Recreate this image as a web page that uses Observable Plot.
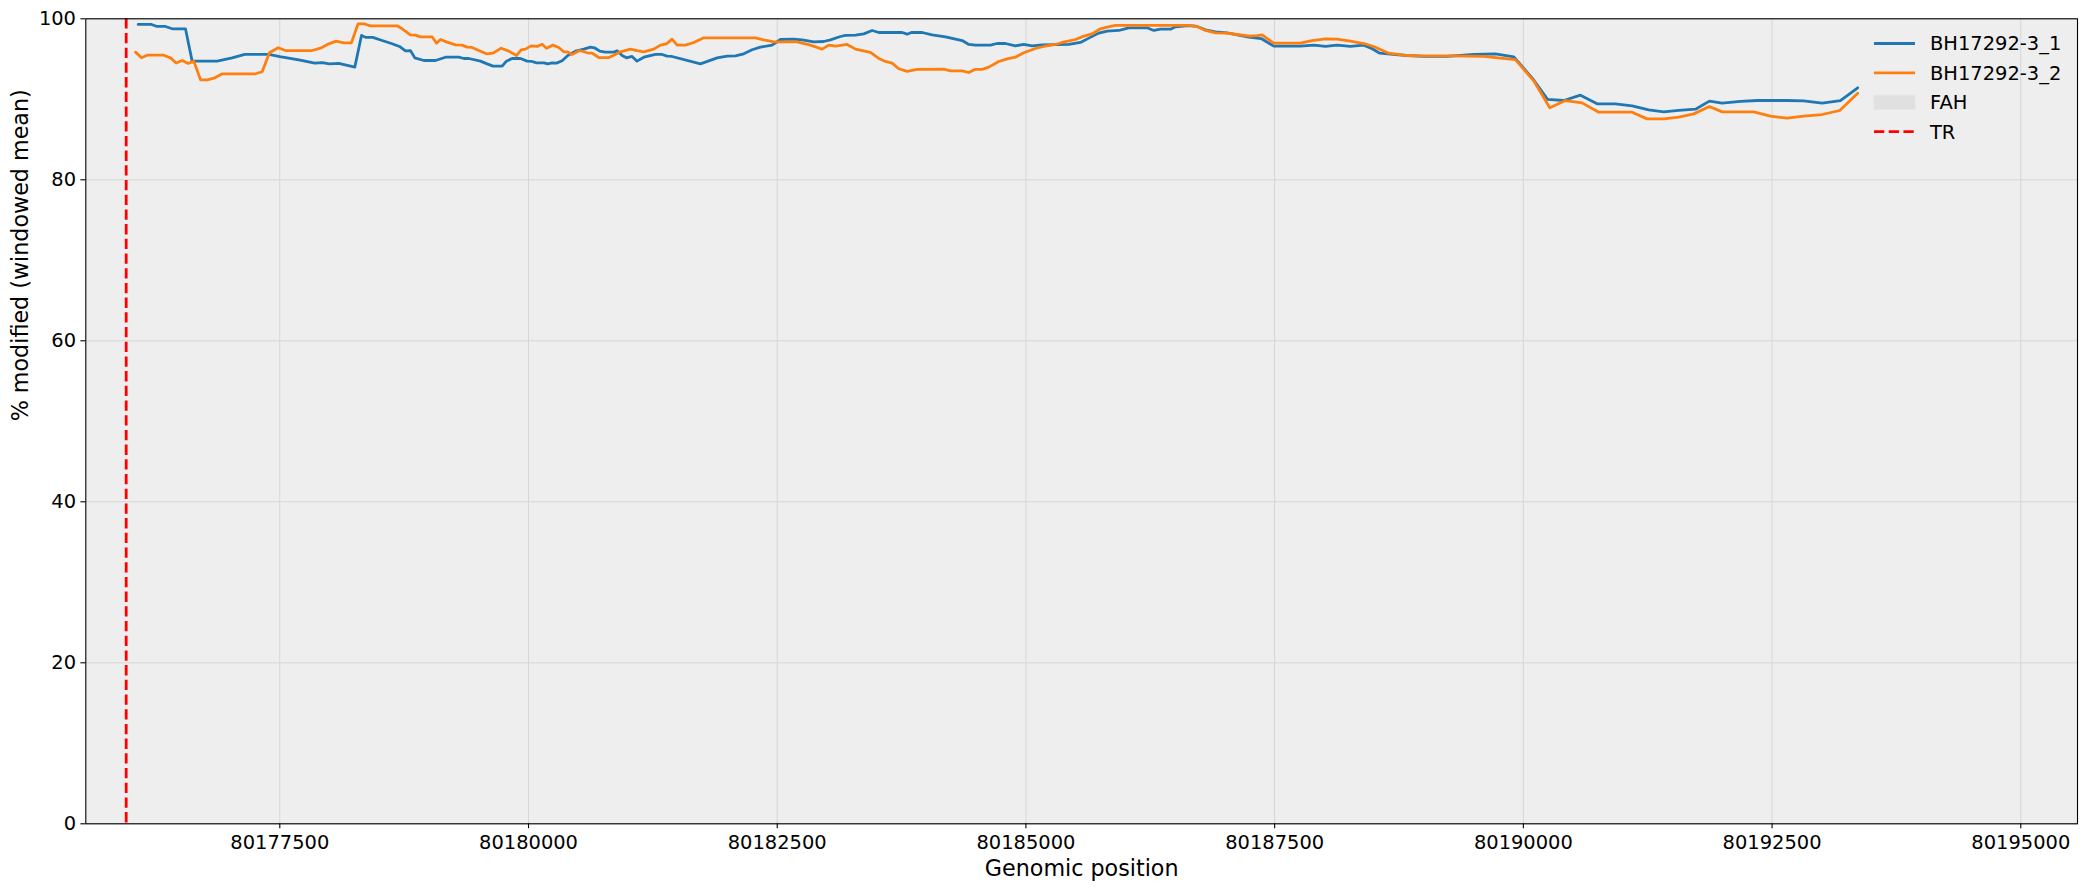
<!DOCTYPE html>
<html>
<head>
<meta charset="utf-8">
<script src="https://cdn.jsdelivr.net/npm/d3@7"></script>
<script src="https://cdn.jsdelivr.net/npm/@observablehq/plot@0.6"></script>
<style>
  html, body { margin: 0; padding: 0; background: #ffffff; }
  #wrap { position: relative; width: 2087px; height: 890px; font-family: "DejaVu Sans", sans-serif; }
  #legend { position: absolute; left: 0; top: 0; }
</style>
</head>
<body>
<div id="wrap"><div id="chart"></div><svg id="legend" width="2087" height="890"></svg></div>
<script>
// ---- data ----
const seriesNames = ["BH17292-3_1", "BH17292-3_2"];
const seriesColors = ["#1f77b4", "#ff7f0e"];
const fahLabel = "FAH";
const trLabel = "TR";
const trPos = [80175956];
const xTicks = [80177500, 80180000, 80182500, 80185000, 80187500, 80190000, 80192500, 80195000];
const yTicks = [0, 20, 40, 60, 80, 100];
const xLabel = "Genomic position";
const yLabel = "% modified (windowed mean)";

const s1Pos = [80176076,80176210,80176267,80176351,80176418,80176552,80176619,80176870,80177021,80177148,80177390,80177500,80177691,80177852,80177926,80178000,80178093,80178254,80178321,80178361,80178435,80178529,80178629,80178703,80178763,80178813,80178857,80178948,80179065,80179165,80179299,80179350,80179400,80179517,80179584,80179644,80179735,80179778,80179835,80179919,80179986,80180036,80180080,80180154,80180194,80180237,80180281,80180338,80180395,80180472,80180556,80180623,80180663,80180716,80180773,80180857,80180891,80180941,80180984,80181041,80181091,80181159,80181276,80181343,80181393,80181443,80181728,80181896,80181996,80182080,80182164,80182247,80182331,80182448,80182532,80182666,80182750,80182867,80182968,80183035,80183135,80183186,80183287,80183370,80183454,80183521,80183756,80183806,80183849,80183957,80184057,80184191,80184359,80184426,80184493,80184644,80184710,80184794,80184894,80184978,80185062,80185163,80185431,80185548,80185632,80185732,80185816,80185933,80186034,80186218,80186285,80186352,80186453,80186503,80186637,80186721,80186804,80186905,80187022,80187123,80187240,80187364,80187491,80187759,80187893,80188011,80188128,80188262,80188396,80188480,80188557,80188664,80188831,80188999,80189233,80189501,80189719,80189904,80190104,80190245,80190406,80190574,80190741,80190925,80191093,80191260,80191411,80191562,80191730,80191870,80191998,80192182,80192349,80192651,80192818,80193003,80193187,80193361];
const s1Val = [99.3,99.3,99.05,99.05,98.76,98.76,94.74,94.74,95.15,95.57,95.57,95.3,94.9,94.5,94.57,94.4,94.45,94.0,97.93,97.7,97.7,97.3,96.9,96.56,96.02,96.06,95.15,94.82,94.82,95.23,95.23,95.07,95.07,94.74,94.4,94.12,94.12,94.74,95.07,95.07,94.74,94.7,94.53,94.53,94.4,94.53,94.49,94.78,95.44,95.98,96.23,96.48,96.4,95.98,95.86,95.86,96.02,95.44,95.15,95.32,94.74,95.23,95.57,95.57,95.36,95.32,94.4,95.15,95.36,95.4,95.65,96.15,96.48,96.73,97.43,97.47,97.39,97.14,97.18,97.39,97.8,97.93,97.97,98.13,98.55,98.3,98.3,98.09,98.3,98.3,98.01,97.76,97.3,96.81,96.73,96.73,96.93,96.93,96.64,96.81,96.64,96.77,96.81,97.06,97.6,98.22,98.47,98.55,98.88,98.88,98.55,98.71,98.71,99.0,99.15,99.05,98.63,98.38,98.26,98.01,97.72,97.55,96.6,96.6,96.73,96.56,96.73,96.56,96.73,96.27,95.73,95.61,95.44,95.32,95.32,95.57,95.65,95.28,92.4,89.98,89.85,90.51,89.44,89.44,89.19,88.69,88.44,88.61,88.77,89.77,89.52,89.73,89.85,89.85,89.81,89.52,89.85,91.43];

const s2Pos = [80176050,80176110,80176167,80176334,80176401,80176458,80176519,80176579,80176636,80176703,80176770,80176847,80176921,80177256,80177323,80177396,80177483,80177557,80177825,80177909,80177993,80178066,80178143,80178220,80178287,80178344,80178411,80178679,80178730,80178813,80178864,80178914,80179031,80179075,80179115,80179182,80179266,80179333,80179383,80179433,80179517,80179577,80179644,80179725,80179802,80179879,80179926,80179969,80180026,80180087,80180137,80180181,80180247,80180304,80180355,80180388,80180438,80180515,80180589,80180639,80180706,80180807,80180857,80180924,80181024,80181091,80181159,80181259,80181326,80181387,80181443,80181494,80181577,80181661,80181762,80182281,80182365,80182465,80182700,80182834,80182951,80183018,80183086,80183203,80183287,80183437,80183521,80183588,80183655,80183722,80183806,80183907,80184174,80184241,80184359,80184426,80184486,80184560,80184627,80184727,80184811,80184894,80184978,80185095,80185179,80185297,80185364,80185498,80185582,80185665,80185749,80185816,80185900,80186637,80186721,80186804,80186905,80187022,80187123,80187250,80187324,80187374,80187491,80187759,80187876,80188011,80188128,80188262,80188396,80188496,80188647,80188831,80188999,80189267,80189602,80189769,80189920,80190104,80190265,80190423,80190590,80190758,80191093,80191244,80191411,80191562,80191713,80191870,80191998,80192316,80192483,80192651,80192818,80193003,80193180,80193361];
const s2Val = [95.86,95.15,95.48,95.48,95.15,94.5,94.82,94.45,94.74,92.42,92.42,92.67,93.17,93.17,93.42,95.78,96.4,96.06,96.06,96.35,96.89,97.22,97.02,97.02,99.38,99.38,99.13,99.13,98.76,98.01,97.97,97.76,97.76,96.97,97.43,97.1,96.77,96.73,96.48,96.44,95.98,95.65,95.73,96.35,95.98,95.44,96.15,96.23,96.64,96.56,96.85,96.35,96.73,96.44,95.9,95.9,95.57,96.06,95.78,95.73,95.19,95.19,95.48,95.9,96.23,96.06,95.9,96.23,96.73,96.89,97.47,96.73,96.73,97.06,97.64,97.64,97.39,97.14,97.14,96.73,96.23,96.73,96.6,96.81,96.23,95.82,95.07,94.7,94.49,93.79,93.46,93.71,93.75,93.54,93.54,93.33,93.71,93.71,94.0,94.7,95.03,95.23,95.78,96.31,96.56,96.81,97.06,97.43,97.85,98.13,98.76,98.96,99.17,99.17,99.05,98.55,98.26,98.22,98.05,97.85,97.9,98.01,96.97,96.97,97.3,97.51,97.47,97.22,96.93,96.56,95.73,95.44,95.4,95.4,95.32,95.11,94.94,92.3,88.94,89.85,89.56,88.4,88.4,87.57,87.57,87.78,88.19,89.1,88.44,88.44,87.9,87.66,87.9,88.11,88.61,90.76];

// ---- build ----
const d1 = s1Pos.map((p, i) => ({pos: p, val: s1Val[i]}));
const d2 = s2Pos.map((p, i) => ({pos: p, val: s2Val[i]}));
const fmt = d => String(d);
const FS = 19.44, LFS = 22.22;

const chart = Plot.plot({
  width: 2087,
  height: 890,
  marginLeft: 85.3,
  marginRight: 10,
  marginTop: 18.3,
  marginBottom: 66.7,
  style: {fontFamily: "DejaVu Sans", fontSize: FS + "px", background: "#ffffff", color: "#000000", overflow: "visible"},
  x: {domain: [80175550, 80195570]},
  y: {domain: [0, 100]},
  marks: [
    Plot.frame({fill: "#eeeeee", stroke: null}),
    Plot.gridX(xTicks, {stroke: "#d6d6d6", strokeOpacity: 1, strokeWidth: 1}),
    Plot.gridY(yTicks, {stroke: "#d6d6d6", strokeOpacity: 1, strokeWidth: 1}),
    Plot.line(d1, {x: "pos", y: "val", stroke: seriesColors[0], strokeWidth: 2.78, strokeLinejoin: "round"}),
    Plot.line(d2, {x: "pos", y: "val", stroke: seriesColors[1], strokeWidth: 2.78, strokeLinejoin: "round"}),
    Plot.ruleX(trPos, {stroke: "#ff0000", strokeWidth: 2.78, strokeDasharray: "10.3,4.4"}),
    Plot.frame({stroke: "#000000", strokeWidth: 1.1}),
    Plot.axisX(xTicks, {tickFormat: fmt, tickSize: 4.9, tickPadding: 6, fontSize: FS, label: null, stroke: "#000", strokeWidth: 1.1}),
    Plot.axisY(yTicks, {tickFormat: fmt, tickSize: 4.9, tickPadding: 4.9, fontSize: FS, label: null, stroke: "#000", strokeWidth: 1.1}),
    Plot.text([xLabel], {frameAnchor: "bottom", dy: 36, lineAnchor: "top", fontSize: LFS, fill: "#000"}),
    Plot.text([yLabel], {frameAnchor: "left", rotate: -90, dx: -74, lineAnchor: "top", fontSize: LFS, fill: "#000"})
  ]
});
document.getElementById("chart").appendChild(chart);

// ---- legend ----
const lg = d3.select("#legend");
const entries = [
  {label: seriesNames[0], kind: "line", color: seriesColors[0]},
  {label: seriesNames[1], kind: "line", color: seriesColors[1]},
  {label: fahLabel, kind: "patch", color: "#e0e0e0"},
  {label: trLabel, kind: "dash", color: "#ff0000"}
];
const lx0 = 1874, lx1 = 1915, tx = 1930, rowY0 = 43.5, rowStep = 29.4;
entries.forEach((e, i) => {
  const cy = rowY0 + i * rowStep;
  if (e.kind === "patch") {
    lg.append("rect").attr("x", lx0).attr("y", cy - 7).attr("width", lx1 - lx0).attr("height", 14)
      .attr("fill", e.color).attr("stroke", "#e4e4e4").attr("stroke-width", 1);
  } else {
    lg.append("line").attr("x1", lx0).attr("x2", lx1).attr("y1", cy).attr("y2", cy)
      .attr("stroke", e.color).attr("stroke-width", 2.78)
      .attr("stroke-dasharray", e.kind === "dash" ? "10.3,4.4" : null);
  }
  lg.append("text").attr("x", tx).attr("y", cy).attr("dy", "0.36em")
    .attr("font-family", "DejaVu Sans").attr("font-size", FS).attr("fill", "#000").text(e.label);
});
</script>
</body>
</html>
